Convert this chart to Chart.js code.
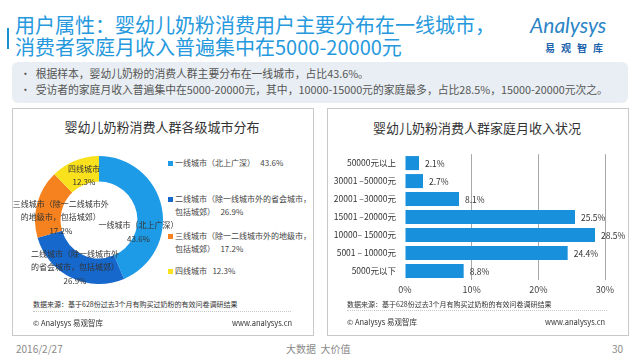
<!DOCTYPE html>
<html><head><meta charset="utf-8">
<script src="https://cdn.jsdelivr.net/npm/chart.js@4.4.1/dist/chart.umd.min.js"></script>
<style>
html,body{margin:0;padding:0;background:#fff;}
body{width:640px;height:360px;position:relative;overflow:hidden;font-family:"Noto Sans CJK SC","Noto Sans",sans-serif;}
.a{position:absolute;white-space:nowrap;}
#accent{left:7px;top:28px;width:2px;height:21px;background:#1a8fd0;}
#title{left:15px;top:14px;font-size:20px;line-height:22px;color:#2699DE;}
#logo1{left:530px;top:12px;font-family:"Lato","Open Sans",sans-serif;font-style:italic;font-weight:400;font-size:21px;color:#2a84c6;}
#logo2{left:545px;top:40px;font-size:10px;font-weight:bold;color:#1d63ad;letter-spacing:6px;}
#bullets{left:12px;top:62px;width:616px;height:41px;background:#E8EEF3;border-radius:6px;}
.bl{font-size:10.8px;color:#555;line-height:14px;}
.panel{top:108px;width:300px;height:226px;border:1px solid #C9C9C9;}
.ptitle{font-size:13px;color:#333;line-height:16px;}
.leg{font-size:8px;color:#444;line-height:12.5px;}
.mk{width:5px;height:5px;}
.src{font-size:7px;color:#333;line-height:10px;}
.cp{font-size:7.5px;color:#333;line-height:10px;}
.sep{height:0;border-top:1px dotted #c8c8c8;}
.ft{font-size:10px;color:#8a8a8a;line-height:12px;}
canvas{position:absolute;}
</style></head>
<body>
<div id="accent" class="a"></div>
<div id="title" class="a">用户属性：婴幼儿奶粉消费用户主要分布在一线城市，<br>消费者家庭月收入普遍集中在5000-20000元</div>
<div id="logo1" class="a">Analysys</div>
<div id="logo2" class="a">易观智库</div>
<div id="bullets" class="a"></div>
<div class="a bl" style="left:20px;top:66px;">•&nbsp;&nbsp;根据样本，婴幼儿奶粉的消费人群主要分布在一线城市，占比43.6%。</div>
<div class="a bl" style="left:20px;top:82px;">•&nbsp;&nbsp;受访者的家庭月收入普遍集中在5000-20000元，其中，10000-15000元的家庭最多，占比28.5%，15000-20000元次之。</div>

<div class="a panel" style="left:12px;"></div>
<div class="a panel" style="left:327px;"></div>
<div class="a ptitle" style="left:12px;width:300px;text-align:center;top:119px;">婴幼儿奶粉消费人群各级城市分布</div>
<div class="a ptitle" style="left:327px;width:300px;text-align:center;top:120px;">婴幼儿奶粉消费人群家庭月收入状况</div>

<div id="legend"></div>

<canvas id="donut" width="200" height="145" style="left:0;top:150px;width:200px;height:145px;"></canvas>
<canvas id="bars" width="300" height="160" style="left:330px;top:140px;width:300px;height:160px;"></canvas>

<div class="a src" style="left:33px;top:299px;">数据来源：基于628份过去3个月有购买过奶粉的有效问卷调研结果</div>
<div class="a sep" style="left:33px;top:311px;width:258px;"></div>
<div class="a cp" style="left:33px;top:318px;">© Analysys 易观智库</div>
<div class="a cp" style="left:232px;width:60px;text-align:right;top:318px;">www.analysys.cn</div>

<div class="a src" style="left:347px;top:299px;">数据来源：基于628份过去3个月有购买过奶粉的有效问卷调研结果</div>
<div class="a sep" style="left:347px;top:310px;width:260px;"></div>
<div class="a cp" style="left:347px;top:317px;">© Analysys 易观智库</div>
<div class="a cp" style="left:545px;width:60px;text-align:right;top:317px;">www.analysys.cn</div>

<div class="a ft" style="left:16px;top:343px;">2016/2/27</div>
<div class="a ft" style="left:286px;top:343px;">大数据&nbsp;&nbsp;大价值</div>
<div class="a ft" style="left:600px;width:23px;text-align:right;top:343px;">30</div>

<script>
// ---- Data: city tiers ----
const cityNames = ['一线城市（北上广深）', '二线城市（除一线城市外的省会城市，包括城郊）', '三线城市（除一二线城市外的地级市，包括城郊）', '四线城市'];
const cityShares = [43.6, 26.9, 17.2, 12.3];
const cityColors = ['#1E9BE6', '#1668CC', '#F5821F', '#F9E11E'];
const cityLabelLines = [['一线城市（北上广深）'], ['二线城市（除一线城市外', '的省会城市，包括城郊）'], ['三线城市（除一二线城市外', '的地级市，包括城郊）'], ['四线城市']];
const cityLegendLines = [['一线城市（北上广深）'], ['二线城市（除一线城市外的省会城市，', '包括城郊）'], ['三线城市（除一二线城市外的地级市，', '包括城郊）'], ['四线城市']];

// ---- Data: household monthly income ----
const incomeCategories = ['50000元以上', '30001 –50000元', '20001 –30000元', '15001 –20000元', '10000– 15000元', '5001 – 10000元', '5000元以下'];
const incomeShares = [2.1, 2.7, 8.1, 25.5, 28.5, 24.4, 8.8];
const incomeTicks = [0, 10, 20, 30];

const FONT = '"Noto Sans CJK SC", "Noto Sans", sans-serif';
Chart.defaults.font.family = FONT;

// legend (HTML)
const legendTops = [157, 193, 230, 265];
const legend = document.getElementById('legend');
cityLegendLines.forEach((lines, i) => {
  const mk = document.createElement('div');
  mk.className = 'a mk';
  mk.style.left = '168px'; mk.style.top = (legendTops[i] + 4) + 'px';
  mk.style.background = cityColors[i];
  legend.appendChild(mk);
  const t = document.createElement('div');
  t.className = 'a leg';
  t.style.left = '175px'; t.style.top = legendTops[i] + 'px';
  const ls = lines.slice();
  ls[ls.length - 1] = ls[ls.length - 1] + '\u00a0\u00a0\u00a0' + cityShares[i].toFixed(1) + '%';
  t.innerHTML = ls.join('<br>');
  legend.appendChild(t);
});

const cityLabelRadius = [0.63, 0.82, 0.6, 0.75];
const cityLabelNudge = [[0, 20], [-1.5, 0], [-1, 7], [3, 0]];

const donutLabels = {
  id: 'donutLabels',
  afterDatasetsDraw(chart) {
    const ctx = chart.ctx;
    const meta = chart.getDatasetMeta(0);
    ctx.save();
    ctx.font = '8px ' + FONT;
    ctx.fillStyle = '#333';
    ctx.textAlign = 'center';
    ctx.textBaseline = 'middle';
    meta.data.forEach((arc, i) => {
      const p = arc.getProps(['x', 'y', 'startAngle', 'endAngle', 'outerRadius'], true);
      const mid = (p.startAngle + p.endAngle) / 2;
      const r = p.outerRadius * cityLabelRadius[i];
      const cx = p.x + Math.cos(mid) * r + cityLabelNudge[i][0];
      const cy = p.y + Math.sin(mid) * r + cityLabelNudge[i][1];
      const lines = cityLabelLines[i].concat([cityShares[i].toFixed(1) + '%']);
      const lh = 13.5;
      const y0 = cy - (lines.length - 1) * lh / 2;
      lines.forEach((t, k) => ctx.fillText(t, cx, y0 + k * lh));
    });
    ctx.restore();
  }
};

new Chart(document.getElementById('donut'), {
  type: 'doughnut',
  data: { labels: cityNames, datasets: [{ data: cityShares, backgroundColor: cityColors, borderWidth: 0 }] },
  options: {
    responsive: false, animation: false, cutout: '60%',
    layout: { padding: { left: 35, right: 37, top: 6, bottom: 11 } },
    plugins: { legend: { display: false }, tooltip: { enabled: false } }
  },
  plugins: [donutLabels]
});

const barLabels = {
  id: 'barLabels',
  afterDatasetsDraw(chart) {
    const ctx = chart.ctx;
    const meta = chart.getDatasetMeta(0);
    ctx.save();
    ctx.font = '8.5px ' + FONT;
    ctx.fillStyle = '#333';
    ctx.textAlign = 'left';
    ctx.textBaseline = 'middle';
    meta.data.forEach((bar, i) => {
      ctx.fillText(incomeShares[i].toFixed(1) + '%', bar.x + 6, bar.y + 1);
    });
    ctx.restore();
  }
};

new Chart(document.getElementById('bars'), {
  type: 'bar',
  data: { labels: incomeCategories, datasets: [{ data: incomeShares, backgroundColor: '#1890DC', borderWidth: 0, barPercentage: 0.78, categoryPercentage: 1 }] },
  options: {
    indexAxis: 'y', responsive: false, animation: false,
    layout: { padding: { left: 0, top: 5, right: 25, bottom: 0 } },
    plugins: { legend: { display: false }, tooltip: { enabled: false } },
    scales: {
      x: {
        min: 0, max: 30,
        afterBuildTicks(scale) { scale.ticks = incomeTicks.map(v => ({ value: v })); },
        afterFit(scale) { scale.height = 20; },
        ticks: { callback: v => v + '%', color: '#444', font: { size: 9 }, padding: 4 },
        grid: { drawTicks: false, color: c => (c.tick && c.tick.value === 0) ? 'rgba(0,0,0,0)' : '#A8A8A8', lineWidth: 1 },
        border: { display: false }
      },
      y: {
        afterFit(scale) { scale.width = 75; },
        ticks: { color: '#333', font: { size: 8.5 }, padding: 9 },
        grid: { display: false, drawTicks: false },
        border: { display: false }
      }
    }
  },
  plugins: [barLabels]
});
</script>
</body></html>
